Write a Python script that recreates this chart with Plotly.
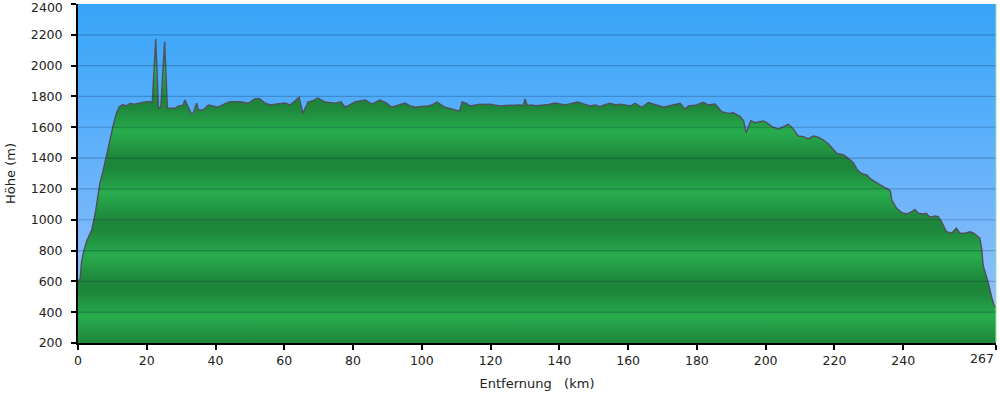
import plotly.graph_objects as go

# ---- data ----
km = [0, 0.6, 1.0, 1.5, 2.5, 3.5, 4.0, 5.0, 6.0, 6.4, 7.0, 8.0, 9.3, 10.0, 11.0, 12.0,
      13.0, 14.0, 15.1, 16.5, 18.0, 19.5, 20.9, 21.6, 22.6, 23.4, 24.1, 25.2, 26.0,
      28.2, 29.0, 29.5, 30.6, 31.1, 32.1, 32.9, 33.5, 34.5, 35.0, 36.4, 37.9, 39.5,
      40.8, 42.5, 44.2, 47.1, 49.5, 51.5, 52.8, 54.4, 56.0, 57.3, 59.0, 60.2, 61.7,
      63.0, 64.3, 65.4, 66.9, 68.5, 69.8, 71.8, 73.5, 74.8, 76.5, 77.7, 79.0, 80.6,
      83.5, 85.5, 87.8, 89.5, 91.3, 93.0, 95.1, 96.5, 98.0, 100.0, 101.8, 103.0,
      104.4, 106.7, 108.5, 109.7, 111.0, 111.7, 113.0, 114.0, 115.5, 116.9, 118.5,
      119.8, 121.0, 122.7, 124.5, 126.2, 128.6, 129.5, 130.0, 130.7, 131.5, 133.5,
      135.8, 137.0, 138.7, 140.0, 141.7, 143.5, 145.4, 147.0, 148.9, 150.5, 151.8,
      153.5, 154.7, 156.5, 157.6, 159.1, 160.6, 162.0, 164.0, 165.9, 168.0, 170.3,
      172.2, 175.1, 176.6, 177.5, 179.9, 181.9, 183.3, 185.3, 187.2, 189.2, 190.6,
      192.6, 193.6, 194.3, 195.7, 196.9, 199.3, 200.3, 201.8, 203.7, 205.2, 206.6,
      207.9, 209.5, 211.0, 212.4, 213.9, 215.4, 216.8, 218.3, 220.7, 222.7, 224.4,
      225.5, 226.5, 227.5, 228.5, 229.5, 230.5, 231.5, 232.5, 233.5, 234.5, 235.5,
      236.3, 236.7, 238.1, 239.6, 241.0, 242.5, 243.4, 244.4, 245.9, 246.7, 247.8,
      249.3, 250.2, 251.2, 252.6, 254.1, 255.5, 256.5, 258.0, 259.4, 260.6, 262.3,
      262.8, 263.3, 264.1, 264.8, 265.7, 266.4, 267.0]
elev = [600, 615, 720, 780, 860, 905, 935, 1040, 1180, 1240, 1290, 1380, 1517, 1590, 1680, 1734,
        1748, 1738, 1755, 1750, 1760, 1765, 1766, 1760, 2173, 1723, 1734, 2155, 1723,
        1723, 1735, 1738, 1745, 1777, 1723, 1690, 1690, 1756, 1712, 1712, 1745, 1738,
        1730, 1750, 1766, 1766, 1756, 1785, 1785, 1757, 1745, 1750, 1752, 1757, 1745,
        1770, 1795, 1690, 1764, 1775, 1790, 1764, 1760, 1757, 1765, 1730, 1745, 1764,
        1777, 1750, 1777, 1760, 1730, 1740, 1757, 1740, 1730, 1735, 1738, 1745,
        1764, 1730, 1720, 1712, 1705, 1764, 1755, 1738, 1745, 1750, 1748,
        1750, 1745, 1738, 1742, 1745, 1745, 1740, 1783, 1740, 1745, 1740,
        1745, 1748, 1757, 1750, 1745, 1755, 1764, 1752, 1738, 1745, 1734,
        1748, 1756, 1745, 1750, 1745, 1738, 1756, 1730, 1760, 1748, 1730,
        1740, 1756, 1717, 1738, 1745, 1762, 1745, 1751, 1701, 1690, 1694,
        1669, 1640, 1565, 1643, 1630, 1641, 1630, 1604, 1589, 1604, 1619,
        1593, 1543, 1539, 1524, 1543, 1535, 1517, 1491, 1431, 1420, 1392,
        1370, 1330, 1305, 1295, 1290, 1265, 1250, 1235, 1225, 1210, 1200,
        1185, 1128, 1074, 1046, 1037, 1052, 1067, 1042, 1037, 1042, 1016,
        1024, 1020, 987, 922, 912, 945, 912, 912, 922, 912, 880,
        815, 700, 641, 588, 501, 447, 432]

x_ticks = [0, 20, 40, 60, 80, 100, 120, 140, 160, 180, 200, 220, 240, 267]
x_labels = ["0", "20", "40", "60", "80", "100", "120", "140", "160", "180", "200",
            "220", "240", "267"]
y_ticks = [200, 400, 600, 800, 1000, 1200, 1400, 1600, 1800, 2000, 2200, 2400]
y_labels = [str(v) for v in y_ticks]
x_max = 267
y_min, y_max = 200, 2400

FONT = "DejaVu Sans, Verdana, sans-serif"
NB = "\u00a0"

# end labels (267 and 2400) are drawn as annotations so they stay inside the page
x_text = [t if t != x_labels[-1] else "" for t in x_labels]
y_text = [t if t != y_labels[-1] else "" for t in y_labels]

# green stripe colorscale (period 400 m, dark just below 200/600/1000/...)
dark = "rgb(29,134,58)"
light = "rgb(40,172,78)"
span = y_max - y_min
stops = []
for b in range(200, 2601, 400):
    for off, col in [(-65, dark), (0, dark), (170, light)]:
        v = b + off
        if y_min <= v <= y_max:
            stops.append([(v - y_min) / span, col])
stops.sort(key=lambda s: s[0])
if stops[0][0] > 0:
    stops.insert(0, [0.0, dark])
if stops[-1][0] < 1:
    stops.append([1.0, light])

sky_scale = [[0.0, "rgb(150,195,252)"], [0.18, "rgb(138,190,252)"],
             [0.45, "rgb(108,180,250)"], [0.73, "rgb(80,172,250)"],
             [1.0, "rgb(56,164,248)"]]

fig = go.Figure()
fig.add_trace(go.Scatter(
    x=[0, x_max], y=[y_max, y_max], mode="lines", line=dict(width=0),
    fill="tozeroy",
    fillgradient=dict(type="vertical", colorscale=sky_scale, start=y_min, stop=y_max),
    hoverinfo="skip", showlegend=False))
fig.add_trace(go.Scatter(
    x=km, y=elev, mode="lines", line=dict(color="#50505c", width=1.4),
    fill="tozeroy",
    fillgradient=dict(type="vertical", colorscale=stops, start=y_min, stop=y_max),
    showlegend=False))

shapes = []
for yv in y_ticks:
    if y_min < yv < y_max:
        shapes.append(dict(type="line", xref="paper", x0=0, x1=1, yref="y", y0=yv, y1=yv,
                           line=dict(color="rgba(0,20,60,0.22)", width=1.2), layer="above"))
shapes.append(dict(type="line", xref="paper", x0=1, x1=1, yref="paper", y0=0, y1=1,
                   line=dict(color="#9fe3a0", width=1), layer="above"))
fig.update_layout(shapes=shapes)

annotations = [
    dict(text=x_labels[-1], x=x_ticks[-1], xref="x", xanchor="right",
         y=0, yref="paper", yanchor="top", yshift=-6, showarrow=False,
         font=dict(size=12.5, color="#222")),
    dict(text=y_labels[-1], x=0, xref="paper", xanchor="right", xshift=-13,
         y=y_ticks[-1], yref="y", yanchor="middle", yshift=-3, showarrow=False,
         font=dict(size=12.5, color="#222")),
]

fig.update_layout(
    width=1000, height=394,
    margin=dict(l=78, r=4, t=4, b=51, autoexpand=False),
    paper_bgcolor="white", plot_bgcolor="white",
    font=dict(family=FONT, size=12.5, color="#222"),
    annotations=annotations,
    xaxis=dict(range=[0, x_max], tickvals=x_ticks, ticktext=x_text,
               showgrid=False, zeroline=False, showline=True, linecolor="black",
               linewidth=2, ticks="outside", ticklen=5, tickwidth=2, tickcolor="black",
               automargin=False, ticklabeloverflow="allow",
               title=dict(text="Entfernung" + NB * 3 + "(km)", font=dict(size=13), standoff=12)),
    yaxis=dict(range=[y_min, y_max], tickvals=y_ticks, ticktext=y_text,
               showgrid=False, zeroline=False,
               showline=True, linecolor="black", linewidth=2, ticks="outside",
               ticklen=5, tickwidth=2, tickcolor="black", ticklabelstandoff=6,
               automargin=False, ticklabeloverflow="allow",
               title=dict(text="Höhe (m)", font=dict(size=13), standoff=12)),
)

fig.write_html(
    "out.html",
    config={"displayModeBar": False},
    post_script="document.body.style.margin='0';document.body.style.overflow='hidden';",
)
